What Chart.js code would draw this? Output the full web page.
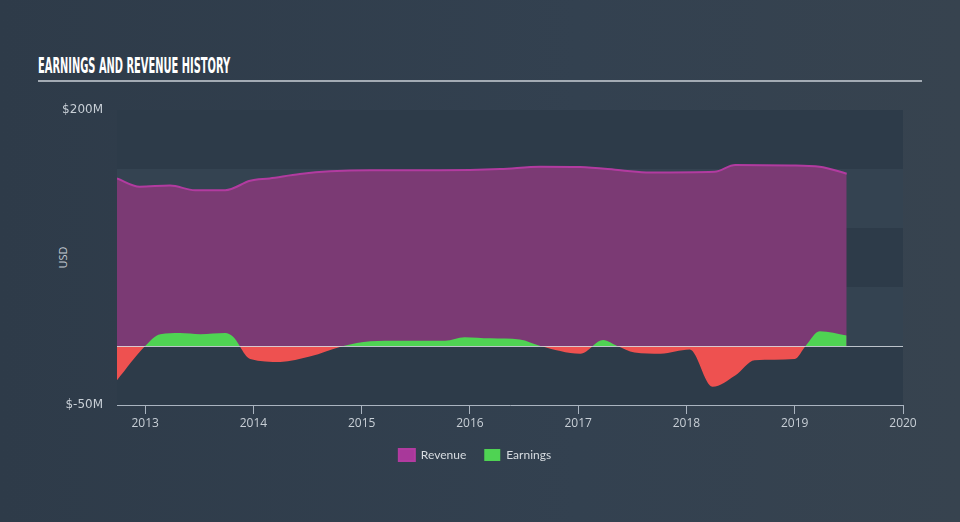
<!DOCTYPE html>
<html>
<head>
<meta charset="utf-8">
<script src="https://cdn.jsdelivr.net/npm/chart.js@4/dist/chart.umd.min.js"></script>
<style>
  html, body { margin: 0; padding: 0; }
  body {
    width: 960px; height: 522px; overflow: hidden; position: relative;
    background: linear-gradient(90deg, #2e3b49 0%, #334150 60%, #37434f 100%);
    font-family: "Open Sans", sans-serif;
  }
  #title {
    position: absolute; left: 38px; top: 55px;
    font-family: "Liberation Sans Narrow", "DejaVu Sans Condensed", sans-serif;
    font-weight: bold; font-size: 21px; color: #ffffff; letter-spacing: 0;
    transform-origin: 0 0; white-space: nowrap; line-height: 22px;
  }
  #rule { position: absolute; left: 38px; top: 80px; width: 884px; height: 2px; background: #a3abb4; }
  #usd {
    position: absolute; left: 47px; top: 250px; width: 30px; text-align: center;
    font-size: 11px; color: #c3cad2; transform: rotate(-90deg); transform-origin: 50% 50%;
  }
  #wrap { position: absolute; left: 0; top: 0; width: 960px; height: 522px; }
</style>
</head>
<body>
<div id="title">EARNINGS AND REVENUE HISTORY</div>
<div id="rule"></div>
<div id="usd">USD</div>
<div id="wrap"><canvas id="myChart"></canvas></div>
<script>
// revenue history (decimal years, $M)
const revenueDates = [2012.74, 2012.95, 2013.23, 2013.46, 2013.74, 2013.97, 2014.15, 2014.43, 2014.71,
    2015.08, 2015.72, 2016.28, 2016.65, 2017.02, 2017.39, 2017.66, 2018.26, 2018.45, 2018.96, 2019.23, 2019.48];
const revenueValues = [142, 135, 136, 132, 132, 140, 142, 145.7, 148,
    149, 149, 150, 152, 151.6, 149, 147, 147.6, 153.3, 153, 152, 146];

// earnings history (decimal years, $M)
const earningsDates = [2012.74, 2013.0, 2013.14, 2013.32, 2013.51, 2013.74, 2013.81, 2013.97, 2014.25, 2014.52,
    2014.83, 2015.08, 2015.35, 2015.77, 2015.95, 2016.19, 2016.46, 2016.65, 2017.02, 2017.23, 2017.36,
    2017.52, 2017.76, 2018.03, 2018.24, 2018.45, 2018.63, 2019.0, 2019.1, 2019.23, 2019.48];
const earningsValues = [-29, 0, 10, 11, 10, 11, 8, -11, -13.5, -9,
    0, 4, 4.5, 4.5, 7.5, 6.5, 5.5, 0, -6.5, 5, 0,
    -5.5, -6.5, -3, -34.5, -25, -12, -11, 0, 12.5, 9];

const yearTicks = [2013, 2014, 2015, 2016, 2017, 2018, 2019, 2020];
const valueTicks = [-50, 0, 50, 100, 150, 200];
const shownValueTicks = [-50, 200];

// squeeze the title to the condensed width of the original
const title = document.getElementById('title');
title.style.transform = 'scaleX(' + (192 / title.offsetWidth) + ')';

const bands = {
    id: 'bands',
    beforeDatasetsDraw(chart) {
        const { ctx, chartArea: a, scales: { y } } = chart;
        ctx.save();
        for (let i = 0; i < valueTicks.length - 1; i++) {
            const top = y.getPixelForValue(valueTicks[valueTicks.length - 1 - i]);
            const bot = y.getPixelForValue(valueTicks[valueTicks.length - 2 - i]);
            ctx.fillStyle = i % 2 === 0 ? '#2d3b49' : '#344351';
            ctx.fillRect(a.left, top, a.right - a.left, bot - top);
        }
        ctx.restore();
    },
    afterDatasetsDraw(chart) {
        const { ctx, chartArea: a, scales: { y } } = chart;
        const y0 = Math.round(y.getPixelForValue(0)) + 0.5;
        ctx.save();
        ctx.strokeStyle = 'rgba(214,220,226,0.85)';
        ctx.lineWidth = 1;
        ctx.beginPath();
        ctx.moveTo(a.left, y0);
        ctx.lineTo(a.right, y0);
        ctx.stroke();
        ctx.restore();
    }
};

const data = {
    datasets: [{
        label: 'Revenue',
        data: revenueDates.map((d, i) => ({ x: d, y: revenueValues[i] })),
        borderColor: '#b23ba0',
        backgroundColor: '#a8389a',
        borderWidth: 2,
        fill: { target: 'origin', above: '#7b3a74', below: '#7b3a74' },
        cubicInterpolationMode: 'monotone',
        pointRadius: 0,
        order: 2
    }, {
        label: 'Earnings',
        data: earningsDates.map((d, i) => ({ x: d, y: earningsValues[i] })),
        borderColor: 'rgba(0,0,0,0)',
        backgroundColor: '#4fd353',
        borderWidth: 0,
        fill: { target: 'origin', above: '#4fd353', below: '#ee5150' },
        cubicInterpolationMode: 'monotone',
        pointRadius: 0,
        order: 1
    }]
};

const config = {
    type: 'line',
    data: data,
    plugins: [bands],
    options: {
        responsive: false,
        animation: false,
        layout: { padding: { left: 47, right: 57, top: 110, bottom: 51 } },
        plugins: {
            legend: {
                position: 'bottom',
                labels: {
                    boxWidth: 16,
                    boxHeight: 12,
                    padding: 18,
                    color: '#d7dce1',
                    font: { family: 'Lato', size: 12 },
                    sort: (a, b) => a.datasetIndex - b.datasetIndex
                }
            },
            tooltip: { enabled: false }
        },
        scales: {
            x: {
                type: 'linear',
                min: 2012.74,
                max: 2020,
                afterBuildTicks: s => { s.ticks = yearTicks.map(v => ({ value: v })); },
                afterFit: s => { s.height = 26; },
                border: { display: true, color: '#aab4c0', width: 1 },
                grid: { drawOnChartArea: false, color: '#aab4c0', tickLength: 9 },
                ticks: { color: '#c8cfd6', padding: 2, font: { family: 'Open Sans', size: 12 }, callback: v => String(v) }
            },
            y: {
                min: -50,
                max: 200,
                afterBuildTicks: s => { s.ticks = valueTicks.map(v => ({ value: v })); },
                afterFit: s => { s.width = 70; },
                border: { display: false },
                grid: { display: false, drawTicks: false },
                ticks: {
                    color: '#c8cfd6',
                    padding: 14,
                    font: { family: 'DejaVu Sans', size: 12 },
                    callback: v => shownValueTicks.includes(v) ? '$' + v + 'M' : ''
                }
            }
        }
    }
};

const canvas = document.getElementById('myChart');
canvas.width = 960;
canvas.height = 522;
const myChart = new Chart(canvas, config);
</script>
</body>
</html>
